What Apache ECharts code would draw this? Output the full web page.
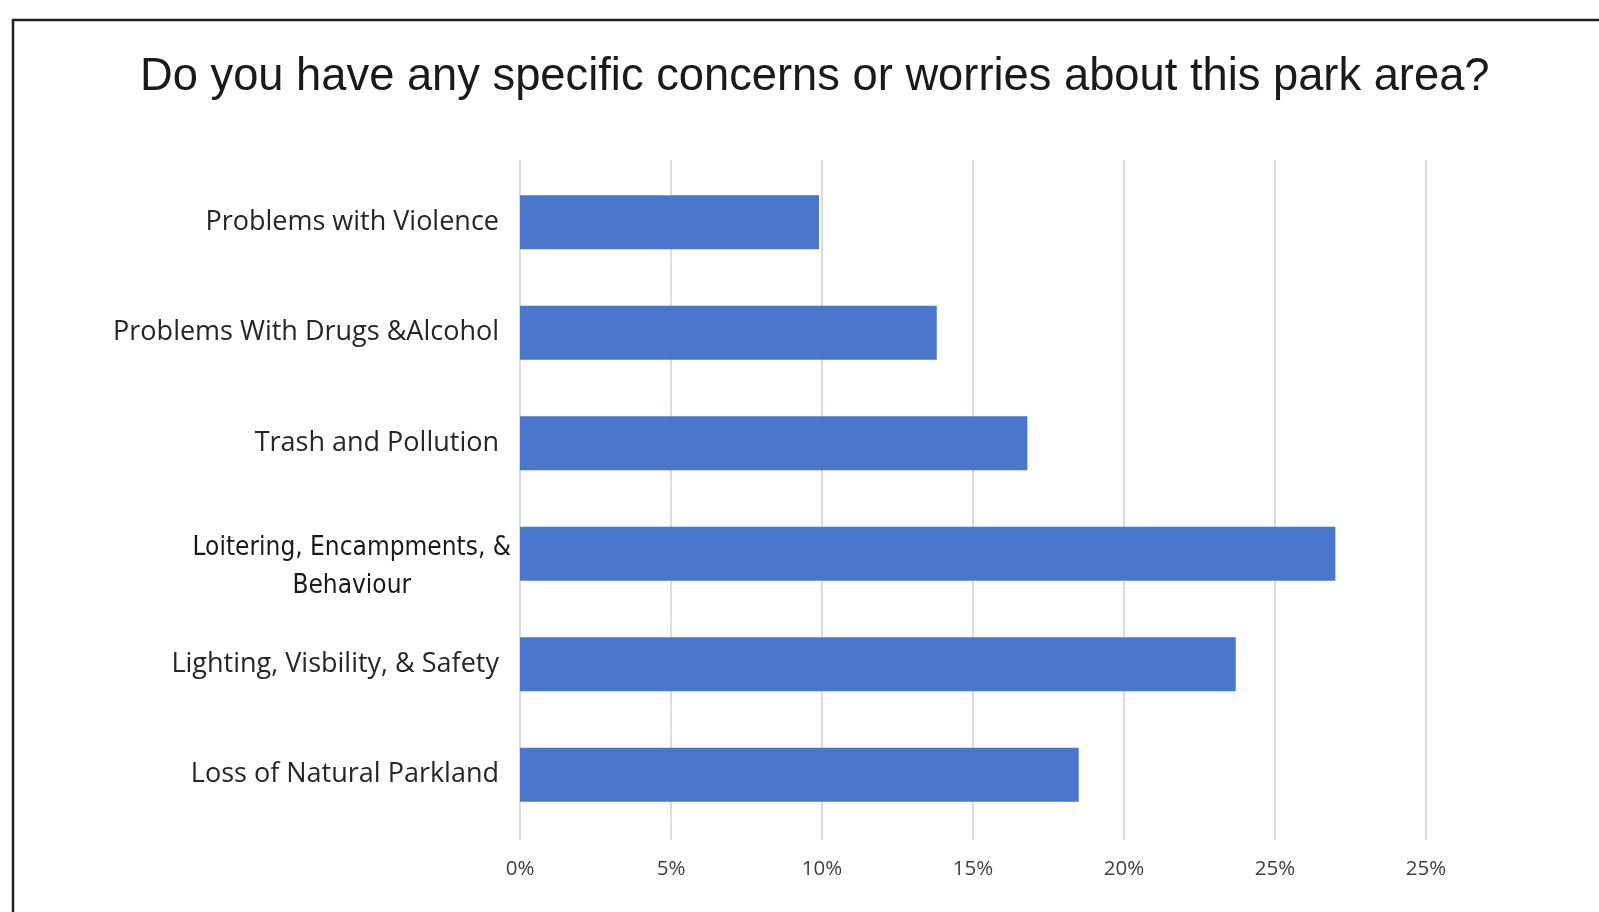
<!DOCTYPE html>
<html>
<head>
<meta charset="utf-8">
<script src="https://cdn.jsdelivr.net/npm/echarts@6/dist/echarts.min.js"></script>
<style>
html,body{margin:0;padding:0;background:#fff;}
#chart{width:1599px;height:912px;}
</style>
</head>
<body>
<div id="chart"></div>
<script>
const titleText = 'Do you have any specific concerns or worries about this park area?';
const categories = [
  'Problems with Violence',
  'Problems With Drugs &Alcohol',
  'Trash and Pollution',
  'Loitering, Encampments, &\nBehaviour',
  'Lighting, Visbility, & Safety',
  'Loss of Natural Parkland'
];
const values = [9.9, 13.8, 16.8, 27.0, 23.7, 18.5];
const tickLabels = ['0%', '5%', '10%', '15%', '20%', '25%', '25%'];

const chart = echarts.init(document.getElementById('chart'));
chart.setOption({
  animation: false,
  backgroundColor: '#fff',
  title: {
    text: titleText,
    left: 135,
    top: 50,
    textStyle: { fontFamily: 'Liberation Sans', fontSize: 45.3, fontWeight: 'normal', color: '#1a1a1a' }
  },
  graphic: [{
    type: 'rect',
    shape: { x: 13, y: 20, width: 1700, height: 1000 },
    style: { fill: 'none', stroke: '#222', lineWidth: 2.5 },
    silent: true
  }],
  grid: [
    { left: 520, right: 173, top: 167, bottom: 82, containLabel: false },
    { left: 520, right: 173, top: 160, bottom: 72, containLabel: false }
  ],
  xAxis: [
    { type: 'value', gridIndex: 0, min: 0, max: 30, interval: 5,
      axisLine: { show: false }, axisTick: { show: false }, axisLabel: { show: false }, splitLine: { show: false } },
    { type: 'value', gridIndex: 1, min: 0, max: 30, interval: 5,
      axisLine: { show: false }, axisTick: { show: false },
      axisLabel: {
        margin: 19,
        formatter: (v) => tickLabels[Math.round(v / 5)],
        fontFamily: 'Open Sans', fontSize: 20.5, color: '#404040'
      },
      splitLine: { show: true, lineStyle: { color: '#dcdcdc', width: 2 } } }
  ],
  yAxis: [
    { type: 'category', gridIndex: 0, data: categories, inverse: true,
      axisLine: { show: false }, axisTick: { show: false },
      axisLabel: {
        margin: 9,
        color: '#262626',
        formatter: (v) => v.indexOf('\n') >= 0 ? '{n|' + v + '}' : '{c|' + v + '}',
        rich: {
          c: { fontFamily: 'Open Sans', fontSize: 27, color: '#262626', padding: [0, 12, 0, 0] },
          n: { fontFamily: "'Liberation Sans Narrow', 'DejaVu Sans Condensed', Roboto", fontSize: 26, color: '#1a1a1a', lineHeight: 38, align: 'center', padding: [26, 0, 0, 0] }
        }
      } },
    { type: 'value', gridIndex: 1, min: 0, max: 1, show: false }
  ],
  series: [{
    type: 'bar',
    xAxisIndex: 0, yAxisIndex: 0,
    data: values,
    barWidth: 54,
    itemStyle: { color: '#4a76cc' }
  }]
});
</script>
</body>
</html>
